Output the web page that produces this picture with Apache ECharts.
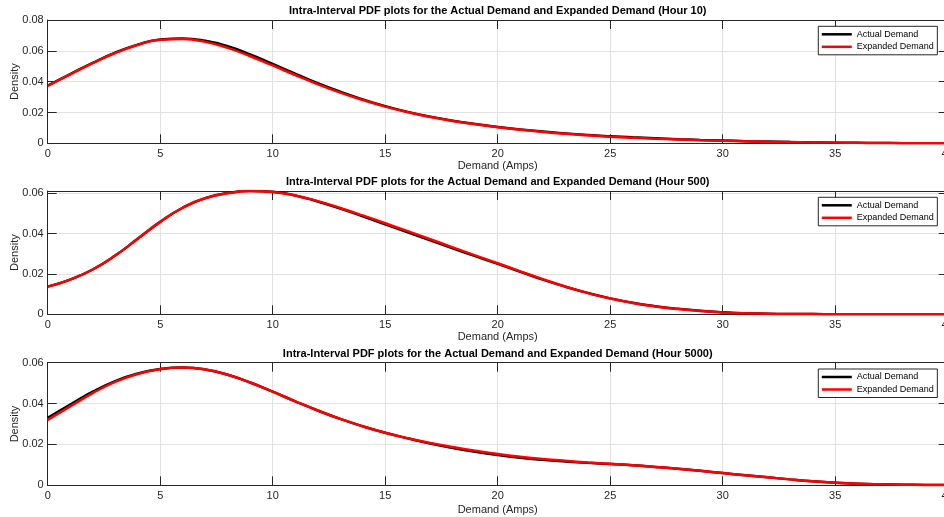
<!DOCTYPE html>
<html>
<head>
<meta charset="utf-8">
<script src="https://cdn.jsdelivr.net/npm/echarts@6/dist/echarts.min.js"></script>
<style>
html,body{margin:0;padding:0;background:#fff;}
#chart{width:944px;height:517px;}
</style>
</head>
<body>
<div id="chart"></div>
<script>
// Demand (Amps) sample positions
const demandX = [0,1,2,3,4,5,6,7,8,9,10,11,12,13,14,15,16,17,18,19,20,21,22,23,24,25,26,27,28,29,30,31,32,33,34,35,36,37,38,39,40];

// Hour 10
const actual10 = [0.0375,0.0449,0.0522,0.0588,0.0640,0.0674,0.0680,0.0665,0.0630,0.0577,0.0515,0.0452,0.0390,0.0335,0.0285,0.0241,0.0204,0.0173,0.0147,0.0125,0.0106,0.0090,0.0076,0.0064,0.0054,0.0046,0.0039,0.0033,0.0027,0.0022,0.0018,0.0014,0.0011,0.0008,0.0006,0.0004,0.0003,0.0002,0.0001,0.0001,0.0000];
const expanded10 = [0.0372,0.0447,0.0520,0.0586,0.0638,0.0672,0.0676,0.0658,0.0619,0.0565,0.0505,0.0443,0.0383,0.0329,0.0281,0.0238,0.0202,0.0171,0.0145,0.0123,0.0104,0.0088,0.0074,0.0062,0.0052,0.0043,0.0036,0.0030,0.0025,0.0020,0.0016,0.0013,0.0010,0.0008,0.0006,0.0005,0.0003,0.0002,0.0001,0.0001,0.0000];

// Hour 500
const actual500 = [0.0137,0.0172,0.0222,0.0291,0.0374,0.0458,0.0528,0.0576,0.0601,0.0611,0.0607,0.0589,0.0559,0.0524,0.0486,0.0446,0.0406,0.0366,0.0327,0.0288,0.0250,0.0211,0.0172,0.0137,0.0106,0.0079,0.0057,0.0040,0.0027,0.0017,0.0010,0.0005,0.0003,0.0001,0.0001,0.0000,0.0000,0.0000,0.0000,0.0000,0.0000];
const expanded500 = [0.0137,0.0172,0.0222,0.0291,0.0374,0.0458,0.0528,0.0575,0.0600,0.0611,0.0606,0.0589,0.0561,0.0527,0.0490,0.0451,0.0412,0.0372,0.0332,0.0292,0.0253,0.0213,0.0174,0.0138,0.0105,0.0078,0.0056,0.0039,0.0026,0.0016,0.0009,0.0005,0.0003,0.0001,0.0001,0.0000,0.0000,0.0000,0.0000,0.0000,0.0000];

// Hour 5000
const actual5000 = [0.0330,0.0395,0.0458,0.0510,0.0547,0.0569,0.0576,0.0567,0.0541,0.0503,0.0458,0.0411,0.0366,0.0325,0.0289,0.0257,0.0230,0.0205,0.0183,0.0164,0.0148,0.0135,0.0125,0.0117,0.0110,0.0104,0.0098,0.0090,0.0081,0.0071,0.0060,0.0049,0.0039,0.0029,0.0020,0.0013,0.0008,0.0005,0.0003,0.0002,0.0001];
const expanded5000 = [0.0320,0.0386,0.0451,0.0506,0.0545,0.0568,0.0576,0.0567,0.0541,0.0503,0.0458,0.0411,0.0366,0.0325,0.0289,0.0257,0.0230,0.0207,0.0187,0.0169,0.0153,0.0140,0.0129,0.0120,0.0112,0.0105,0.0098,0.0090,0.0081,0.0071,0.0060,0.0049,0.0039,0.0029,0.0020,0.0013,0.0008,0.0005,0.0003,0.0002,0.0001];

const titles = [
  'Intra-Interval PDF plots for the Actual Demand and Expanded Demand (Hour 10)',
  'Intra-Interval PDF plots for the Actual Demand and Expanded Demand (Hour 500)',
  'Intra-Interval PDF plots for the Actual Demand and Expanded Demand (Hour 5000)'
];
const yMaxes = [0.08, 0.0611, 0.06];
const yStep = 0.02;
const xMin = 0, xMax = 40, xStep = 5;
const seriesNames = ['Actual Demand', 'Expanded Demand'];
const panels = [[actual10, expanded10],[actual500, expanded500],[actual5000, expanded5000]];

const FONT = "'Liberation Sans', Arial, Helvetica, sans-serif";
const AX = '#262626';
const GRIDC = '#e2e2e2';

const layout = [
  {top: 20, height: 123.3, nameGap: 17},
  {top: 191, height: 123.3, nameGap: 17},
  {top: 362.7, height: 122.6, nameGap: 19}
];

const option = {
  animation: false,
  backgroundColor: '#fff',
  title: [], grid: [], xAxis: [], yAxis: [], legend: [], series: []
};

layout.forEach((L, i) => {
  option.grid.push({left: 47.7, width: 900, top: L.top, height: L.height, containLabel: false, outerBoundsMode: 'none'});
  option.title.push({
    text: titles[i], left: 497.7, top: L.top - 14.5, textAlign: 'center', padding: 0,
    textStyle: {fontFamily: FONT, fontSize: 11, fontWeight: 'bold', color: '#000'}
  });
  const tick = {show: true, inside: true, length: 9, lineStyle: {color: AX, width: 1}};
  const line = {show: true, onZero: false, lineStyle: {color: AX, width: 1}};
  option.xAxis.push({
    type: 'value', gridIndex: i, min: xMin, max: xMax, interval: xStep, position: 'bottom',
    axisLine: line, axisTick: tick,
    axisLabel: {color: AX, fontFamily: FONT, fontSize: 11, margin: 5, hideOverlap: false},
    splitLine: {show: true, lineStyle: {color: GRIDC, width: 1}},
    name: 'Demand (Amps)', nameLocation: 'middle', nameGap: L.nameGap, nameMoveOverlap: false,
    nameTextStyle: {color: AX, fontFamily: FONT, fontSize: 11}
  });
  option.xAxis.push({
    type: 'value', gridIndex: i, min: xMin, max: xMax, interval: xStep, position: 'top',
    axisLine: line, axisTick: tick, axisLabel: {show: false}, splitLine: {show: false}
  });
  const fmt = v => {
    const r = v / yStep;
    if (Math.abs(r - Math.round(r)) > 1e-6) return '';
    return v === 0 ? '0' : v.toFixed(2);
  };
  option.yAxis.push({
    type: 'value', gridIndex: i, min: 0, max: yMaxes[i], interval: yStep, position: 'left',
    axisLine: line, axisTick: tick,
    axisLabel: {color: AX, fontFamily: FONT, fontSize: 11, margin: 4, formatter: fmt},
    splitLine: {show: true, lineStyle: {color: GRIDC, width: 1}},
    name: 'Density', nameLocation: 'middle', nameGap: 27, nameMoveOverlap: false,
    nameTextStyle: {color: AX, fontFamily: FONT, fontSize: 11}
  });
  option.yAxis.push({
    type: 'value', gridIndex: i, min: 0, max: yMaxes[i], interval: yStep, position: 'right',
    axisLine: line, axisTick: tick, axisLabel: {show: false}, splitLine: {show: false}
  });
  option.legend.push({
    left: 818.3, top: L.top + 6.3, orient: 'vertical',
    data: seriesNames.map(n => ({name: n, icon: 'rect'})),
    itemWidth: 30, itemHeight: 2.5, itemGap: 1.5,
    padding: [2.5, 3.5, 2.5, 3.5],
    backgroundColor: '#fff', borderColor: AX, borderWidth: 1, borderRadius: 0,
    textStyle: {fontFamily: FONT, fontSize: 9, color: '#000', lineHeight: 11},
    selectedMode: false
  });
  const colors = ['#000000', '#ff0000'];
  panels[i].forEach((vals, k) => {
    option.series.push({
      type: 'line', name: seriesNames[k], xAxisIndex: 2 * i, yAxisIndex: 2 * i,
      data: demandX.map((x, j) => [x, vals[j]]),
      showSymbol: false, symbol: 'none', smooth: 0.5,
      lineStyle: {color: colors[k], width: 2.5},
      itemStyle: {color: colors[k]},
      z: 2 + k
    });
  });
});

const chart = echarts.init(document.getElementById('chart'), null, {renderer: 'canvas'});
chart.setOption(option);
</script>
</body>
</html>
